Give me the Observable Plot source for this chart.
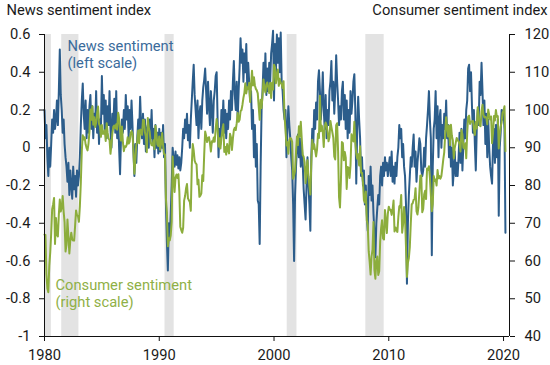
<!DOCTYPE html>
<html>
<head>
<meta charset="utf-8">
<script src="https://cdn.jsdelivr.net/npm/d3@7"></script>
<script src="https://cdn.jsdelivr.net/npm/@observablehq/plot@0.6"></script>
<style>
  html, body { margin: 0; padding: 0; background: #fff; }
  #chart svg { display: block; }
</style>
</head>
<body>
<div id="chart"></div>
<script>
// ---- Data (monthly, starting January 1980) ----
const startYear = 1980;

// News sentiment index (left scale), monthly
const newsSentiment = [
  0.2, 0.05, 0.12, -0.05, -0.15, 0.0, -0.1, 0.02, 0.15, 0.08, 0.2, 0.1,          // 1980
  0.15, 0.25, 0.12, 0.3, 0.52, 0.28, 0.2, 0.08, 0.15, 0.02, -0.05, -0.1,         // 1981
  -0.18, -0.08, -0.25, -0.12, -0.2, -0.27, -0.1, -0.22, -0.15, -0.26, -0.12, -0.2, // 1982
  -0.15, -0.05, 0.12, 0.25, 0.34, 0.18, 0.1, 0.25, 0.05, 0.2, 0.08, 0.22,        // 1983
  0.28, 0.1, 0.22, 0.05, 0.18, 0.12, 0.3, 0.08, 0.2, 0.02, 0.15, 0.1,            // 1984
  0.38, 0.18, 0.28, 0.08, 0.25, 0.05, 0.22, 0.12, 0.3, 0.1, 0.0, 0.18,           // 1985
  0.12, 0.26, 0.08, 0.3, 0.05, 0.18, 0.0, -0.14, 0.05, 0.15, 0.08, 0.2,          // 1986
  0.1, 0.28, 0.15, 0.22, 0.05, 0.2, 0.1, 0.25, 0.12, -0.02, -0.15, 0.02,         // 1987
  -0.08, 0.05, 0.15, 0.08, 0.27, 0.12, 0.05, 0.18, 0.02, 0.15, -0.02, 0.1,       // 1988
  0.12, 0.0, 0.15, 0.05, 0.2, 0.02, 0.1, -0.05, 0.12, 0.0, 0.08, -0.03,          // 1989
  0.1, -0.02, 0.08, 0.0, 0.12, -0.05, 0.02, -0.3, -0.5, -0.65, -0.4, -0.48,      // 1990
  -0.35, -0.2, 0.0, -0.06, -0.1, -0.02, -0.09, -0.04, -0.11, -0.05, -0.12, -0.08, // 1991
  0.0, 0.1, 0.05, 0.15, 0.08, 0.18, 0.04, 0.12, 0.0, 0.15, 0.25, 0.35,           // 1992
  0.44, 0.28, 0.2, 0.12, 0.25, 0.05, 0.18, 0.22, 0.1, 0.25, 0.32, 0.36,          // 1993
  0.42, 0.3, 0.18, 0.35, 0.22, 0.12, 0.3, 0.2, 0.08, 0.25, 0.3, 0.38,            // 1994
  0.4, 0.15, -0.05, 0.1, 0.02, 0.2, 0.12, 0.25, 0.08, 0.2, 0.05, 0.18,           // 1995
  0.1, 0.25, 0.15, 0.3, 0.2, 0.35, 0.46, 0.28, 0.2, 0.35, 0.15, 0.3,             // 1996
  0.42, 0.58, 0.45, 0.52, 0.35, 0.5, 0.4, 0.55, 0.32, 0.45, 0.35, 0.25,          // 1997
  0.3, 0.1, 0.2, -0.05, 0.12, -0.1, 0.02, -0.28, -0.3, -0.51, -0.1, 0.2,         // 1998
  0.3, 0.45, 0.32, 0.5, 0.28, 0.42, 0.3, 0.45, 0.35, 0.5, 0.55, 0.62,            // 1999
  0.25, 0.55, 0.4, 0.6, 0.45, 0.58, 0.4, 0.61, 0.35, 0.3, 0.2, 0.15,             // 2000
  0.2, -0.05, 0.1, 0.22, 0.12, 0.05, -0.05, -0.12, -0.3, -0.6, -0.25, -0.1,      // 2001
  0.0, 0.07, -0.05, 0.05, -0.1, 0.02, -0.08, -0.22, -0.3, -0.38, -0.2, -0.05,    // 2002
  -0.2, -0.3, -0.44, -0.05, 0.1, 0.0, 0.2, 0.1, 0.24, 0.15, 0.35, 0.41,          // 2003
  0.3, 0.15, 0.25, 0.4, 0.2, 0.1, 0.28, 0.05, 0.2, 0.12, 0.3, 0.35,              // 2004
  0.46, 0.25, 0.35, 0.18, 0.3, 0.49, 0.35, 0.25, 0.12, 0.22, 0.15, 0.3,          // 2005
  0.35, 0.15, 0.28, 0.1, 0.25, 0.05, 0.2, 0.08, 0.3, 0.18, 0.25, 0.35,           // 2006
  0.39, 0.2, -0.19, 0.1, 0.27, 0.15, 0.05, -0.15, -0.05, -0.2, -0.12, -0.3,      // 2007
  -0.2, -0.35, -0.44, -0.15, -0.25, -0.1, -0.28, -0.2, -0.35, -0.45, -0.58, -0.4, // 2008
  -0.32, -0.25, -0.3, -0.15, -0.1, -0.2, -0.08, -0.15, -0.05, -0.12, -0.08, -0.15, // 2009
  -0.1, -0.05, -0.15, -0.02, -0.18, -0.1, -0.19, -0.08, -0.15, -0.05, 0.0, 0.12, // 2010
  0.05, 0.1, -0.05, 0.02, -0.1, -0.15, -0.3, -0.72, -0.4, -0.25, -0.15, -0.05,   // 2011
  -0.1, 0.0, 0.07, -0.1, -0.02, -0.18, -0.08, -0.02, 0.05, 0.02, -0.12, -0.15,   // 2012
  -0.12, 0.0, -0.1, 0.05, 0.12, 0.2, 0.3, 0.15, 0.05, -0.57, -0.1, 0.1,          // 2013
  0.15, 0.3, 0.05, 0.22, -0.05, 0.15, 0.2, 0.0, 0.12, 0.05, 0.18, 0.1,           // 2014
  0.25, 0.05, 0.12, -0.05, 0.08, -0.1, 0.0, -0.2, -0.12, -0.02, -0.15, -0.08,    // 2015
  -0.15, -0.05, 0.08, -0.08, 0.1, -0.12, 0.02, 0.15, 0.05, 0.2, 0.25, 0.42,      // 2016
  0.44, 0.3, 0.4, 0.22, 0.08, 0.2, 0.02, -0.12, 0.1, 0.2, 0.12, 0.35,            // 2017
  0.28, 0.45, 0.3, 0.12, 0.25, 0.02, 0.18, -0.05, 0.15, 0.0, -0.1, -0.15,        // 2018
  -0.19, 0.02, 0.1, -0.08, 0.12, -0.05, 0.15, -0.36, 0.0, 0.08, 0.2, 0.15,       // 2019
  0.2, 0.1, -0.45                                                                // 2020
];

// Consumer sentiment index (right scale), monthly
const consumerSentiment = [
  67.0, 66.9, 56.5, 52.7, 51.7, 58.7, 62.3, 67.3, 73.7, 75.0, 76.7, 64.5,   // 1980
  71.4, 66.9, 66.5, 72.4, 76.3, 73.1, 74.1, 77.2, 73.1, 70.3, 62.5, 64.3,   // 1981
  71.0, 66.5, 62.0, 65.5, 67.5, 65.7, 65.4, 65.4, 69.3, 73.4, 72.1, 71.9,   // 1982
  70.4, 74.6, 80.8, 89.1, 93.3, 92.2, 92.8, 90.9, 89.9, 89.3, 91.1, 94.2,   // 1983
  100.1, 97.4, 101.0, 96.1, 98.1, 95.5, 96.6, 99.1, 100.9, 96.3, 95.7, 92.9, // 1984
  96.0, 93.7, 93.7, 94.6, 91.8, 96.5, 94.0, 92.4, 92.1, 88.4, 90.9, 93.9,   // 1985
  95.6, 95.9, 95.1, 96.2, 94.8, 99.3, 97.7, 94.9, 91.9, 95.6, 91.4, 89.1,   // 1986
  90.4, 90.2, 90.8, 92.8, 91.1, 91.5, 93.7, 94.4, 93.6, 89.3, 83.1, 86.8,   // 1987
  90.8, 91.6, 94.6, 91.2, 94.8, 94.7, 93.4, 97.4, 97.3, 94.1, 93.0, 88.8,   // 1988
  97.9, 95.4, 94.3, 91.5, 90.7, 90.6, 92.0, 89.6, 95.8, 93.9, 90.9, 90.5,   // 1989
  93.0, 89.5, 91.3, 93.9, 90.6, 88.3, 88.2, 76.4, 72.8, 63.9, 66.0, 65.5,   // 1990
  66.8, 70.4, 87.7, 81.8, 78.3, 82.1, 82.9, 82.0, 83.0, 78.3, 69.1, 68.2,   // 1991
  67.5, 68.8, 76.0, 77.2, 79.2, 80.4, 76.6, 76.1, 75.6, 73.3, 85.3, 91.0,   // 1992
  89.3, 86.6, 85.9, 85.6, 80.3, 81.5, 77.0, 77.3, 77.9, 82.7, 81.2, 88.2,   // 1993
  94.3, 93.2, 91.5, 92.6, 92.8, 91.2, 89.0, 91.7, 91.5, 92.7, 91.6, 95.1,   // 1994
  97.6, 95.1, 90.3, 92.5, 89.8, 92.7, 94.4, 96.2, 88.9, 90.2, 88.2, 91.0,   // 1995
  89.3, 88.5, 93.7, 92.7, 89.4, 92.4, 94.7, 95.3, 94.7, 96.5, 99.2, 96.9,   // 1996
  97.4, 99.7, 100.0, 101.4, 103.2, 104.5, 107.1, 104.4, 106.0, 105.6, 107.2, 102.1, // 1997
  106.6, 110.4, 106.5, 108.7, 106.5, 105.6, 105.2, 104.4, 100.9, 97.4, 102.7, 100.5, // 1998
  103.9, 108.1, 105.7, 104.6, 106.8, 107.3, 106.0, 104.5, 107.2, 103.2, 107.2, 105.4, // 1999
  112.0, 111.3, 107.1, 109.2, 110.7, 106.4, 108.3, 107.3, 106.8, 105.8, 107.6, 98.4, // 2000
  94.7, 90.6, 91.5, 88.4, 92.0, 92.6, 92.4, 91.5, 81.8, 82.7, 83.9, 88.8,   // 2001
  93.0, 90.7, 95.7, 93.0, 96.9, 92.4, 88.1, 87.6, 86.1, 80.6, 84.2, 86.7,   // 2002
  82.4, 79.9, 77.6, 86.0, 92.1, 89.7, 90.9, 89.3, 87.7, 89.6, 93.7, 92.6,   // 2003
  103.8, 94.4, 95.8, 94.2, 90.2, 95.6, 96.7, 95.9, 94.2, 91.7, 92.8, 97.1,  // 2004
  95.5, 94.1, 92.6, 87.7, 86.9, 96.0, 96.5, 89.1, 76.9, 74.2, 81.6, 91.5,   // 2005
  91.2, 86.7, 88.9, 87.4, 79.1, 84.9, 84.7, 82.0, 85.4, 93.6, 92.1, 91.7,   // 2006
  96.9, 91.3, 88.4, 87.1, 88.3, 85.3, 90.4, 83.4, 83.4, 80.9, 76.1, 75.5,   // 2007
  78.4, 70.8, 69.5, 62.6, 59.8, 56.4, 61.2, 63.0, 70.3, 57.6, 55.3, 60.1,   // 2008
  61.2, 56.3, 57.3, 65.1, 68.7, 70.8, 66.0, 65.7, 73.5, 70.6, 67.4, 72.5,   // 2009
  74.4, 73.6, 73.6, 72.2, 73.6, 76.0, 67.8, 68.9, 68.2, 67.7, 71.6, 74.5,   // 2010
  74.2, 77.5, 67.5, 69.8, 74.3, 71.5, 63.7, 55.8, 59.5, 60.8, 63.7, 69.9,   // 2011
  75.0, 75.3, 76.2, 76.4, 79.3, 73.2, 72.3, 74.3, 78.3, 82.6, 82.7, 72.9,   // 2012
  73.8, 77.6, 78.6, 76.4, 84.5, 84.1, 85.1, 82.1, 77.5, 73.2, 75.1, 82.5,   // 2013
  81.2, 81.6, 80.0, 84.1, 81.9, 82.5, 81.8, 82.5, 84.6, 86.9, 88.8, 93.6,   // 2014
  98.1, 95.4, 93.0, 95.9, 90.7, 96.1, 93.1, 91.9, 87.2, 90.0, 91.3, 92.6,   // 2015
  92.0, 91.7, 91.0, 89.0, 94.7, 93.5, 90.0, 89.8, 91.2, 87.2, 93.8, 98.2,   // 2016
  98.5, 96.3, 96.9, 97.0, 97.1, 95.0, 93.4, 96.8, 95.1, 100.7, 98.5, 95.9,  // 2017
  95.7, 99.7, 101.4, 98.8, 98.0, 98.2, 97.9, 96.2, 100.1, 98.6, 97.5, 98.3, // 2018
  91.2, 93.8, 98.4, 97.2, 100.0, 98.2, 98.4, 89.8, 93.2, 95.5, 96.8, 99.3,  // 2019
  99.8, 101.0, 89.1                                                          // 2020
];

// Recession shading (decimal years)
const recessionStart = [1980.0, 1981.5, 1990.5, 2001.15, 2008.0];
const recessionEnd   = [1980.6, 1983.0, 1991.3, 2002.0, 2009.6];

// Axis ticks
const leftTicks  = [-1, -0.8, -0.6, -0.4, -0.2, 0, 0.2, 0.4, 0.6];
const rightTicks = [40, 50, 60, 70, 80, 90, 100, 110, 120];
const yearTicks  = [1980, 1990, 2000, 2010, 2020];
const xDomain = [1980, 2020.52];

// Labels
const leftTitle  = "News sentiment index";
const rightTitle = "Consumer sentiment index";
const newsLabel  = "News sentiment\n(left scale)";
const consLabel  = "Consumer sentiment\n(right scale)";

// ---- Build ----
const BLUE = "#2c5d8b";
const GREEN = "#8cad3c";
const toLeft = c => (c - 90) / 50;      // consumer scale -> news scale
const toRight = v => 90 + 50 * v;

const news = newsSentiment.map((v, i) => ({t: startYear + i / 12, v}));
const cons = consumerSentiment.map((c, i) => ({t: startYear + i / 12, v: toLeft(c)}));
const rec = recessionStart.map((s, i) => ({x1: s, x2: recessionEnd[i]}));

const FS = 14.7;

const chart = Plot.plot({
  width: 550,
  height: 365,
  marginTop: 34,
  marginBottom: 29,
  marginLeft: 44,
  marginRight: 41,
  style: {fontFamily: "Roboto, sans-serif", fontSize: FS + "px", color: "#1a1a1a", background: "#fff", overflow: "visible"},
  x: {domain: xDomain},
  y: {domain: [leftTicks[0], leftTicks[leftTicks.length - 1]]},
  marks: [
    Plot.rect(rec, {x1: "x1", x2: "x2", fill: "#e3e3e3"}),
    Plot.line(news, {x: "t", y: "v", stroke: BLUE, strokeWidth: 2}),
    Plot.line(cons, {x: "t", y: "v", stroke: GREEN, strokeWidth: 2}),
    Plot.ruleY([leftTicks[0]], {stroke: "#111"}),
    Plot.ruleX(xDomain, {stroke: "#111"}),
    Plot.axisX({ticks: yearTicks, tickFormat: d => String(d), tickSize: 5, tickPadding: 8, label: null, stroke: "#111"}),
    Plot.axisY({anchor: "left", ticks: leftTicks, tickFormat: d => String(d), tickSize: 5, tickPadding: 9, label: null, stroke: "#111"}),
    Plot.axisY({anchor: "right", ticks: rightTicks.map(toLeft), tickFormat: d => String(Math.round(toRight(d))), tickSize: 5, tickPadding: 10, label: null, stroke: "#111"}),
    Plot.text([leftTitle], {text: d => d, frameAnchor: "top-left", textAnchor: "start", lineAnchor: "top", dx: -38, dy: -29.5, fontSize: FS, fill: "#1a1a1a"}),
    Plot.text([rightTitle], {text: d => d, frameAnchor: "top-right", textAnchor: "end", lineAnchor: "top", dx: 38, dy: -29.5, fontSize: FS, fill: "#1a1a1a"}),
    Plot.text([newsLabel], {text: d => d, frameAnchor: "top-left", textAnchor: "start", lineAnchor: "top", dx: 23, dy: 5, fontSize: FS, lineHeight: 1.13, fill: "#3a6b9b"}),
    Plot.text([consLabel], {text: d => d, frameAnchor: "top-left", textAnchor: "start", lineAnchor: "top", dx: 11, dy: 244, fontSize: FS, lineHeight: 1.13, fill: "#8fb046"})
  ]
});

document.getElementById("chart").appendChild(chart);
</script>
</body>
</html>
